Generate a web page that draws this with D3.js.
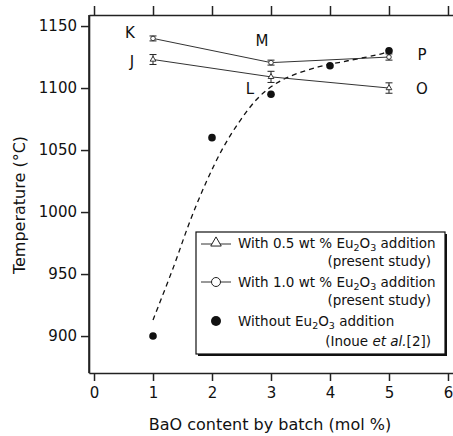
<!DOCTYPE html>
<html>
<head>
<meta charset="utf-8">
<script src="https://cdn.jsdelivr.net/npm/d3@7"></script>
<style>
  html, body { margin: 0; padding: 0; background: #fff; }
  svg text { font-family: "DejaVu Sans", sans-serif; fill: #111; }
</style>
</head>
<body>
<svg id="chart" width="453" height="436"></svg>
<script>
// ---------- data ----------
const xTicks = [0, 1, 2, 3, 4, 5, 6];
const yTicks = [900, 950, 1000, 1050, 1100, 1150];

const bao = [1, 3, 5];
const temp05 = [1123, 1109, 1100];      // With 0.5 wt % Eu2O3 (triangles)
const err05 = [4, 4.5, 4.2];
const temp10 = [1140, 1120.5, 1125];    // With 1.0 wt % Eu2O3 (open circles)
const err10 = [2, 2, 2.5];
const labels05 = ["J", "L", "O"];
const labels10 = ["K", "M", "P"];

const baoInoue = [1, 2, 3, 4, 5];
const tempInoue = [900, 1060, 1095, 1118, 1130]; // Without Eu2O3 (Inoue et al.)

const fitX = [1.0, 1.35, 1.63, 1.91, 2.19, 2.48, 2.76, 3.0, 3.3, 3.8, 4.3, 4.9, 5.0];
const fitT = [913, 956, 993, 1025, 1052, 1074, 1091, 1101, 1109, 1117, 1122, 1128, 1130];

// ---------- layout ----------
const svg = d3.select("#chart");
const mLeft = 89, mRight = 453, mTop = 15, mBottom = 373;
const x = d3.scaleLinear().domain([-0.085, 6.085]).range([mLeft, mRight]);
const y = d3.scaleLinear().domain([870.2, 1158.9]).range([mBottom, mTop]);

const axisColor = "#222";

// axes
const gx = svg.append("g").attr("transform", `translate(0,${mBottom})`)
  .call(d3.axisBottom(x).tickValues(xTicks).tickFormat(d3.format("d")).tickSize(8).tickSizeOuter(0).tickPadding(6));
const gxTop = svg.append("g").attr("transform", `translate(0,${mTop})`)
  .call(d3.axisTop(x).tickValues(xTicks).tickFormat("").tickSize(9).tickSizeOuter(0));
const gy = svg.append("g").attr("transform", `translate(${mLeft},0)`)
  .call(d3.axisLeft(y).tickValues(yTicks).tickFormat(d3.format("d")).tickSize(8).tickSizeOuter(0).tickPadding(4));

[gx, gxTop, gy].forEach(g => {
  g.select(".domain").attr("stroke", axisColor).attr("stroke-width", 1.6);
  g.selectAll(".tick line").attr("stroke", axisColor).attr("stroke-width", 1.5);
  g.selectAll(".tick text").attr("fill", "#111").style("font-size", "15px").style("font-family", "DejaVu Sans");
});
// extend left axis line to full height
svg.append("line").attr("x1", mLeft).attr("x2", mLeft).attr("y1", mTop).attr("y2", mBottom)
  .attr("stroke", axisColor).attr("stroke-width", 1.6);

// axis titles
svg.append("text").attr("x", 270).attr("y", 430).attr("text-anchor", "middle")
  .style("font-size", "16px").text("BaO content by batch (mol %)");
svg.append("text").attr("transform", `translate(25,205) rotate(-90)`).attr("text-anchor", "middle")
  .style("font-size", "16px").text("Temperature (°C)");

// ---------- dashed fit curve ----------
const fitData = fitX.map((v, i) => [v, fitT[i]]);
svg.append("path").datum(fitData)
  .attr("d", d3.line().x(d => x(d[0])).y(d => y(d[1])).curve(d3.curveCatmullRom))
  .attr("fill", "none").attr("stroke", "#111").attr("stroke-width", 1.3)
  .attr("stroke-dasharray", "5,4");

// ---------- series lines ----------
const lineColor = "#333";
const d05 = bao.map((v, i) => ({ x: v, t: temp05[i], e: err05[i], lab: labels05[i] }));
const d10 = bao.map((v, i) => ({ x: v, t: temp10[i], e: err10[i], lab: labels10[i] }));
const lineGen = d3.line().x(d => x(d.x)).y(d => y(d.t));
[d05, d10].forEach(ds => {
  svg.append("path").datum(ds).attr("d", lineGen)
    .attr("fill", "none").attr("stroke", lineColor).attr("stroke-width", 1);
});

// error bars
function errorBars(ds) {
  const g = svg.append("g").attr("stroke", "#222").attr("stroke-width", 1);
  ds.forEach(d => {
    g.append("line").attr("x1", x(d.x)).attr("x2", x(d.x)).attr("y1", y(d.t - d.e)).attr("y2", y(d.t + d.e));
    g.append("line").attr("x1", x(d.x) - 3.5).attr("x2", x(d.x) + 3.5).attr("y1", y(d.t - d.e)).attr("y2", y(d.t - d.e));
    g.append("line").attr("x1", x(d.x) - 3.5).attr("x2", x(d.x) + 3.5).attr("y1", y(d.t + d.e)).attr("y2", y(d.t + d.e));
  });
}
errorBars(d05);
errorBars(d10);

// markers
const triSmall = d3.symbol().type(d3.symbolTriangle).size(14);
svg.selectAll(".tri").data(d05).join("path")
  .attr("transform", d => `translate(${x(d.x)},${y(d.t)})`)
  .attr("d", triSmall).attr("fill", "#fff").attr("stroke", "#222").attr("stroke-width", 0.9);
svg.selectAll(".circ").data(d10).join("circle")
  .attr("cx", d => x(d.x)).attr("cy", d => y(d.t)).attr("r", 2.3)
  .attr("fill", "#fff").attr("stroke", "#222").attr("stroke-width", 0.9);

// Inoue points
svg.selectAll(".dot").data(baoInoue.map((v, i) => ({ x: v, t: tempInoue[i] }))).join("circle")
  .attr("cx", d => x(d.x)).attr("cy", d => y(d.t)).attr("r", 3.8).attr("fill", "#111");

// point labels
const labelOffsets = { J: [-21, 7.5], K: [-23, 0], L: [-21, 17], M: [-9, -16.5], O: [33, 6], P: [33, 3] };
[...d05, ...d10].forEach(d => {
  const o = labelOffsets[d.lab];
  svg.append("text").attr("x", x(d.x) + o[0]).attr("y", y(d.t) + o[1])
    .attr("text-anchor", "middle").style("font-size", "15px").text(d.lab);
});

// ---------- legend ----------
const lg = svg.append("g");
const lx0 = 196, ly0 = 232, lw = 249, lh = 122;
lg.append("rect").attr("x", lx0 + 2).attr("y", ly0 + 2).attr("width", lw).attr("height", lh).attr("fill", "#111");
lg.append("rect").attr("x", lx0).attr("y", ly0).attr("width", lw).attr("height", lh)
  .attr("fill", "#fff").attr("stroke", "#111").attr("stroke-width", 1.2);

const fs = "13.5px";
function eu(textSel, before, after) {
  textSel.append("tspan").text(before + "Eu");
  textSel.append("tspan").attr("dy", 3).style("font-size", "9.5px").text("2");
  textSel.append("tspan").attr("dy", -3).text("O");
  textSel.append("tspan").attr("dy", 3).style("font-size", "9.5px").text("3");
  textSel.append("tspan").attr("dy", -3).text(after);
}
const symX = 216, textX = 238, textR = 431;
// row 1
lg.append("line").attr("x1", 201).attr("x2", 231).attr("y1", 244).attr("y2", 244).attr("stroke", lineColor);
lg.append("path").attr("transform", "translate(216,243)")
  .attr("d", d3.symbol().type(d3.symbolTriangle).size(48)).attr("fill", "#fff").attr("stroke", "#222");
eu(lg.append("text").attr("x", textX).attr("y", 248).style("font-size", fs), "With 0.5 wt % ", " addition");
lg.append("text").attr("x", textR).attr("y", 266).attr("text-anchor", "end").style("font-size", fs).text("(present study)");
// row 2
lg.append("line").attr("x1", 201).attr("x2", 231).attr("y1", 282).attr("y2", 282).attr("stroke", lineColor);
lg.append("circle").attr("cx", symX).attr("cy", 282).attr("r", 4.5).attr("fill", "#fff").attr("stroke", "#222");
eu(lg.append("text").attr("x", textX).attr("y", 287).style("font-size", fs), "With 1.0 wt % ", " addition");
lg.append("text").attr("x", textR).attr("y", 305).attr("text-anchor", "end").style("font-size", fs).text("(present study)");
// row 3
lg.append("circle").attr("cx", symX).attr("cy", 321).attr("r", 5).attr("fill", "#111");
eu(lg.append("text").attr("x", textX).attr("y", 326).style("font-size", fs), "Without ", " addition");
const t3 = lg.append("text").attr("x", textR).attr("y", 346).attr("text-anchor", "end").style("font-size", fs);
t3.append("tspan").text("(Inoue ");
t3.append("tspan").style("font-style", "italic").text("et al.");
t3.append("tspan").text("[2])");
</script>
</body>
</html>
